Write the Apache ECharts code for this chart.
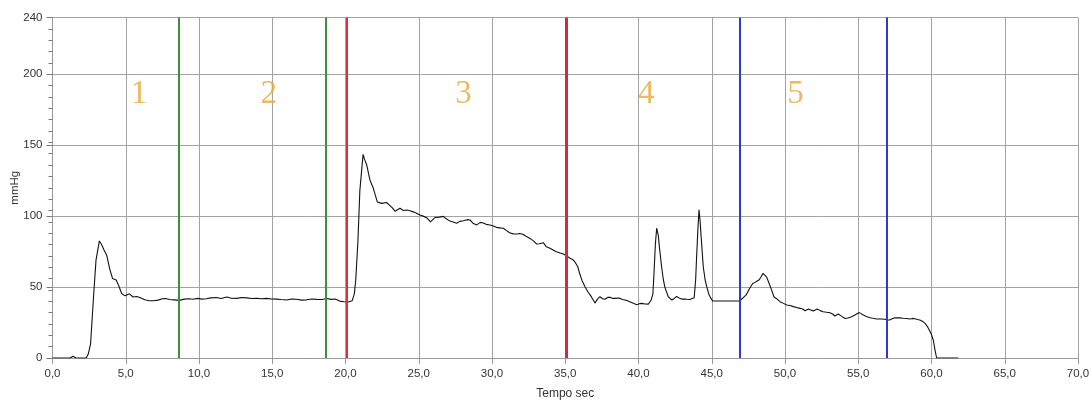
<!DOCTYPE html>
<html>
<head>
<meta charset="utf-8">
<script src="https://cdn.jsdelivr.net/npm/echarts@6/dist/echarts.min.js"></script>
<style>
  html, body { margin: 0; padding: 0; background: #fff; }
  #chart { width: 1092px; height: 405px; }
</style>
</head>
<body>
<div id="chart"></div>
<script>
// Pressure trace (seconds, mmHg)
const timeSec = [
  0, 1.2, 1.4, 1.6, 2.3, 2.45, 2.6, 2.8, 2.97, 3.2, 3.35, 3.5, 3.7, 3.9, 4.1, 4.35, 4.5, 4.72, 4.95, 5.25,
  5.5, 5.75, 6.0, 6.3, 6.6, 6.9, 7.2, 7.5, 7.7, 8.0, 8.3, 8.66, 9.0, 9.3, 9.6, 9.9, 10.2, 10.5, 10.8, 11.2,
  11.5, 11.9, 12.2, 12.6, 12.9, 13.26, 13.6, 13.94, 14.3, 14.6, 14.95, 15.3, 15.6, 15.99, 16.3, 16.67, 17.0, 17.35, 17.7, 18.03,
  18.4, 18.72, 19.0, 19.3, 19.6, 19.9, 20.2, 20.45, 20.6, 20.7, 20.85, 20.98, 21.2, 21.3, 21.45, 21.67, 21.9, 22.17, 22.47, 22.8,
  23.0, 23.2, 23.38, 23.72, 23.95, 24.18, 24.4, 24.63, 24.85, 25.08, 25.3, 25.54, 25.8, 26.1, 26.4, 26.67, 26.9, 27.13, 27.35, 27.59,
  27.8, 28.04, 28.3, 28.5, 28.7, 28.96, 29.2, 29.4, 29.6, 29.86, 30.1, 30.3, 30.55, 30.77, 31.0, 31.2, 31.45, 31.7, 31.9, 32.1,
  32.35, 32.6, 32.85, 33.05, 33.25, 33.5, 33.7, 33.96, 34.2, 34.4, 34.65, 34.87, 35.1, 35.3, 35.5, 35.67, 35.85, 36.0, 36.15, 36.35,
  36.55, 36.7, 36.9, 37.03, 37.2, 37.37, 37.55, 37.7, 37.9, 38.06, 38.25, 38.4, 38.6, 38.74, 38.9, 39.08, 39.25, 39.4, 39.65, 39.88,
  40.05, 40.2, 40.45, 40.67, 40.85, 40.98, 41.06, 41.15, 41.24, 41.35, 41.45, 41.58, 41.7, 41.8, 42.03, 42.27, 42.45, 42.6, 42.8, 42.95,
  43.15, 43.3, 43.5, 43.63, 43.8, 43.9, 43.97, 44.06, 44.13, 44.2, 44.28, 44.42, 44.55, 44.66, 44.8, 44.95, 45.06, 46.88, 46.93, 47.15,
  47.35, 47.6, 47.8, 47.95, 48.1, 48.24, 48.38, 48.5, 48.62, 48.75, 48.9, 49.1, 49.25, 49.43, 49.66, 49.9, 50.12, 50.35, 50.57, 50.8,
  51.02, 51.2, 51.37, 51.6, 51.75, 51.93, 52.2, 52.4, 52.6, 52.85, 53.07, 53.25, 53.4, 53.64, 53.85, 54.1, 54.3, 54.55, 54.8, 55.07,
  55.2, 55.35, 55.55, 55.8, 56.0, 56.26, 56.55, 56.83, 57.0, 57.17, 57.35, 57.5, 57.8, 58.07, 58.3, 58.53, 58.7, 58.87, 59.05, 59.2,
  59.4, 59.56, 59.7, 59.85, 60.0, 60.12, 60.24, 60.35, 61.83
];
const pressure = [
  0, 0, 1.2, 0, 0, 3, 10, 43, 69, 82.5, 80, 76.5, 72.5, 63, 56, 55, 51.5, 45.5, 43.8, 45.2,
  43, 43.3, 42.5, 41, 40.4, 40.3, 40.8, 41.8, 41.9, 41.2, 41, 40.6, 41.5, 41.8, 41.4, 42, 41.5, 41.8, 42.4, 42.6,
  41.9, 43, 42.1, 42, 42.6, 42.4, 41.9, 42, 41.8, 42, 41.6, 41.5, 41.2, 40.9, 41.6, 41.4, 40.8, 41, 41.6, 41.3,
  41.2, 41.9, 41.3, 41.6, 40.1, 39.6, 39.5, 40.3, 45, 55, 83, 118, 143.5, 140, 136, 125.4, 119.6, 110, 109, 109.6,
  107.8, 105.8, 103.5, 105.5, 104, 104.3, 103.8, 103, 102, 100.8, 100, 98.9, 96, 99, 99.3, 99.8, 98, 96.5, 95.8, 95,
  96.3, 96.8, 97.5, 97.3, 95, 93.8, 95.6, 95.2, 94.2, 93.7, 93, 92.1, 91.7, 91.4, 89.8, 88.3, 87.5, 87.4, 87.8, 87.2,
  85.6, 84.3, 82.4, 80.3, 80.5, 81.3, 78.5, 77.3, 76, 74.9, 74, 73.3, 72, 70.5, 69.5, 67.5, 64.5, 59, 54.5, 50.2,
  46.5, 44.5, 41, 38.7, 41.5, 43.2, 41.8, 41.4, 42.7, 42.8, 42, 42, 42.3, 42, 41.2, 40.9, 40.3, 39.7, 38.6, 37.6,
  38.2, 38.5, 38.1, 38, 40.5, 45, 60, 80, 91.5, 86.5, 76, 64, 55, 50, 43.2, 40.9, 42, 43.4, 42.2, 41.5,
  41.6, 41.4, 41.2, 40.9, 42.5, 55, 72, 92, 104.5, 97, 85, 64.3, 55, 50.2, 45, 42, 40.2, 40.2, 41.2, 42.5,
  44.5, 49.3, 52.5, 53.3, 54.3, 55.2, 57.5, 59.7, 59.5, 57, 53, 47.5, 43, 41.8, 39.7, 38.5, 37.4, 37, 36.2, 35.6,
  35, 34.5, 33.3, 34.6, 33.8, 33.2, 34.5, 33.4, 32.6, 32.2, 31.9, 31, 29.6, 31, 29.5, 27.8, 28.2, 29.1, 30.5, 32,
  31.2, 30.3, 29.3, 28.4, 28, 27.5, 27.5, 27.3, 26.8, 26.9, 27.8, 28.4, 28.3, 28, 27.8, 27.5, 27.9, 27.7, 27.2, 26.8,
  25.8, 24.4, 22.5, 19.7, 16.5, 12.7, 5.6, 0, 0
];

// Phase boundaries (seconds)
const greenMarks = [8.65, 18.65];
const redMarks = [20.1, 35.1];
const blueMarks = [46.88, 56.93];

// Phase numbers and where they sit (seconds, mmHg)
const phaseNames = ['1', '2', '3', '4', '5'];
const phaseTime = [5.9, 14.76, 28.05, 40.53, 50.72];
const phaseLevel = [186, 186, 186, 186, 186];

// Axis ticks
const xTicks = { min: 0, max: 70, step: 5 };
const yTicks = { min: 0, max: 240, step: 50, minorStep: 8 };

const trace = timeSec.map((t, i) => [t, pressure[i]]);
const phases = phaseNames.map((n, i) => ({ name: n, value: [phaseTime[i], phaseLevel[i]] }));

const axisFont = 'Liberation Sans, Arial, sans-serif';
const gridGray = '#a3a3a3';

function vline(x, color, width) {
  return { xAxis: x, lineStyle: { color: color, width: width, type: 'solid' } };
}

const chart = echarts.init(document.getElementById('chart'), null, { renderer: 'canvas' });
chart.setOption({
  animation: false,
  backgroundColor: '#ffffff',
  grid: { left: 52.5, right: 14, top: 17.5, bottom: 47, containLabel: false, outerBoundsMode: 'none' },
  xAxis: {
    type: 'value',
    min: xTicks.min, max: xTicks.max, interval: xTicks.step,
    name: 'Tempo sec', nameLocation: 'middle', nameGap: 30, nameMoveOverlap: false,
    nameTextStyle: { fontFamily: axisFont, fontSize: 12, color: '#333' },
    axisLine: { show: true, onZero: false, lineStyle: { color: '#9a9a9a', width: 1 } },
    axisTick: { show: true, length: 6, lineStyle: { color: '#9a9a9a' } },
    axisLabel: {
      fontFamily: axisFont, fontSize: 11.5, color: '#333', margin: 10,
      formatter: v => v.toFixed(1).replace('.', ',')
    },
    splitLine: { show: true, lineStyle: { color: gridGray, width: 1 } }
  },
  yAxis: [
    {
      type: 'value',
      min: yTicks.min, max: yTicks.max, interval: yTicks.step,
      name: 'mmHg', nameLocation: 'middle', nameGap: 32, nameRotate: 90, nameMoveOverlap: false,
      nameTextStyle: { fontFamily: axisFont, fontSize: 11.5, color: '#333' },
      axisLine: { show: true, lineStyle: { color: '#9a9a9a', width: 1 } },
      axisTick: { show: true, length: 6, lineStyle: { color: '#7a7a7a' } },
      axisLabel: { fontFamily: axisFont, fontSize: 11.5, color: '#333', margin: 10, showMaxLabel: true },
      splitLine: { show: true, lineStyle: { color: gridGray, width: 1 } }
    },
    {
      type: 'value',
      position: 'left',
      min: yTicks.min, max: yTicks.max, interval: yTicks.minorStep,
      axisLine: { show: false },
      axisTick: { show: true, length: 4, lineStyle: { color: '#7a7a7a' } },
      axisLabel: { show: false },
      splitLine: { show: false }
    }
  ],
  series: [
    {
      type: 'line',
      data: trace,
      yAxisIndex: 0,
      showSymbol: false,
      symbol: 'none',
      lineStyle: { color: '#111', width: 1.1 },
      z: 3,
      markLine: {
        silent: true,
        symbol: ['none', 'none'],
        label: { show: false },
        animation: false,
        data: [
          ...greenMarks.map(x => vline(x, '#3f8f3c', 2)),
          vline(redMarks[0], '#d8313c', 2),
          vline(redMarks[1], '#cf2e38', 3),
          ...blueMarks.map(x => vline(x, '#2a3bd2', 2))
        ]
      }
    },
    {
      type: 'scatter',
      data: phases,
      yAxisIndex: 0,
      symbolSize: 0,
      silent: true,
      label: {
        show: true,
        position: 'inside',
        formatter: '{b}',
        fontFamily: 'Liberation Serif, DejaVu Serif, serif',
        fontSize: 33,
        color: '#e8a73a'
      }
    }
  ]
});
</script>
</body>
</html>
